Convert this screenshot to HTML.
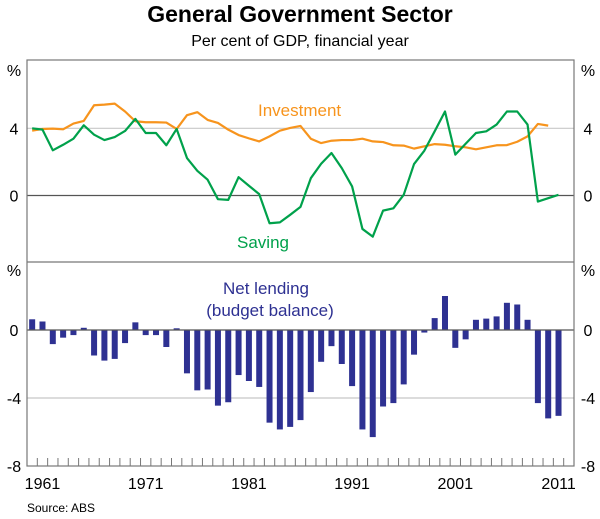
<!DOCTYPE html>
<html><head><meta charset="utf-8"><style>
body{margin:0;background:#fff;}
svg{display:block;font-family:"Liberation Sans",Arial,sans-serif;}
</style></head><body>
<svg width="600" height="519" viewBox="0 0 600 519" id="chart">
<text x="300" y="22" text-anchor="middle" font-size="23" font-weight="bold" fill="#000">General Government Sector</text>
<text x="300" y="46" text-anchor="middle" font-size="16" fill="#000">Per cent of GDP, financial year</text>
<g id="grid"></g>
<g id="marks"></g>
<rect x="27" y="60" width="547" height="406" fill="none" stroke="#777" stroke-width="1.2"/>
<line x1="27" y1="262" x2="574" y2="262" stroke="#777" stroke-width="1.2"/>
<g id="axes" font-size="16" fill="#000"></g>
<text x="258" y="116" font-size="17" fill="#f7941d">Investment</text>
<text x="237" y="248" font-size="17" fill="#00a14b">Saving</text>
<text x="266" y="294" text-anchor="middle" font-size="17" fill="#2e3192">Net lending</text>
<text x="270" y="316" text-anchor="middle" font-size="17" fill="#2e3192">(budget balance)</text>
<text x="27" y="512" font-size="12" fill="#000">Source: ABS</text>
</svg>
<script>
const startYear = 1960;
const investment = [3.86,3.96,3.98,3.94,4.28,4.44,5.37,5.41,5.47,5.0,4.42,4.36,4.36,4.34,3.96,4.78,4.96,4.5,4.32,3.92,3.6,3.4,3.22,3.52,3.86,4.02,4.14,3.38,3.12,3.26,3.3,3.3,3.38,3.22,3.18,2.99,2.97,2.79,2.93,3.06,3.02,2.93,2.87,2.75,2.87,2.99,3.0,3.2,3.52,4.26,4.16];
const investmentStart = 1960;
const saving = [4.0,3.92,2.69,3.02,3.38,4.18,3.62,3.3,3.48,3.84,4.56,3.72,3.72,2.99,3.96,2.23,1.47,0.94,-0.22,-0.26,1.09,0.58,0.08,-1.65,-1.6,-1.15,-0.68,1.03,1.89,2.53,1.63,0.54,-1.99,-2.45,-0.9,-0.76,0.04,1.87,2.67,3.82,5.0,2.43,3.08,3.72,3.82,4.22,5.0,5.0,4.22,-0.36,-0.16,0.04];
const netLending = [0.63,0.5,-0.83,-0.45,-0.3,0.13,-1.5,-1.8,-1.7,-0.77,0.45,-0.3,-0.3,-1.0,0.1,-2.55,-3.55,-3.5,-4.45,-4.25,-2.65,-3.0,-3.35,-5.45,-5.85,-5.7,-5.3,-3.65,-1.87,-0.95,-2.0,-3.3,-5.85,-6.3,-4.5,-4.3,-3.2,-1.45,-0.15,0.7,2.0,-1.05,-0.55,0.6,0.67,0.8,1.6,1.5,0.6,-4.3,-5.2,-5.05];
const topTicks = [4,0];
const bottomTicks = [0,-4,-8];
const yearLabels = [1961,1971,1981,1991,2001,2011];

const NS="http://www.w3.org/2000/svg";
const L=27,R=574,nSlots=53,slot=(R-L)/nSlots;
function xOf(year){return L+slot*(year-startYear+0.5);}
function yTop(v){return 195.5-16.8*v;}
function yBot(v){return 330-17*v;}
function mk(tag,attrs,parent){const e=document.createElementNS(NS,tag);for(const k in attrs)e.setAttribute(k,attrs[k]);parent.appendChild(e);return e;}
const grid=document.getElementById('grid'),marks=document.getElementById('marks'),axes=document.getElementById('axes');

// grid lines
let g;
g=mk('line',{x1:L,x2:R,y1:yTop(4),y2:yTop(4),stroke:'#c8c8c8','stroke-width':1.2},grid);


g=mk('line',{x1:L,x2:R,y1:yBot(-4),y2:yBot(-4),stroke:'#c8c8c8','stroke-width':1.2},grid);



// bars
netLending.forEach((v,i)=>{
  const x=xOf(startYear+i),y0=yBot(0),y1=yBot(v);
  const b=mk('rect',{x:x-3,width:6,y:Math.min(y0,y1),height:Math.max(Math.abs(y1-y0),0.8),fill:'#2e3192'},marks);
  
  
});
// zero lines
g=mk('line',{x1:L,x2:R,y1:yTop(0),y2:yTop(0),stroke:'#555','stroke-width':1.2},marks);


g=mk('line',{x1:L,x2:R,y1:yBot(0),y2:yBot(0),stroke:'#555','stroke-width':1.2},marks);



// lines
const invPath=mk('polyline',{points:investment.map((v,i)=>xOf(investmentStart+i)+','+yTop(v)).join(' '),fill:'none',stroke:'#f7941d','stroke-width':2.2,'stroke-linejoin':'round'},marks);


const savPath=mk('polyline',{points:saving.map((v,i)=>xOf(startYear+i)+','+yTop(v)).join(' '),fill:'none',stroke:'#00a14b','stroke-width':2.2,'stroke-linejoin':'round'},marks);



// x ticks
for(let i=1;i<nSlots;i++){
  const x=L+slot*i;
  const t=mk('line',{x1:x,x2:x,y1:466,y2:458,stroke:'#777','stroke-width':1},axes);
  
  
}
yearLabels.forEach(yr=>{
  const t=mk('text',{x:xOf(yr),y:489,'text-anchor':'middle'},axes);
  t.textContent=yr;
  
  
});
// y labels
function ylab(txt,y,name){
  let t=mk('text',{x:14,y:y+6,'text-anchor':'middle'},axes);t.textContent=txt;
  
  
  t=mk('text',{x:588,y:y+6,'text-anchor':'middle'},axes);t.textContent=txt;
  
  
}
ylab('%',70,'top-unit');
ylab('%',270,'bottom-unit');
topTicks.forEach(v=>ylab(String(v),yTop(v),'top-tick-'+v));
bottomTicks.forEach(v=>ylab(String(v),yBot(v),'bottom-tick-'+v));
</script>
</body></html>
